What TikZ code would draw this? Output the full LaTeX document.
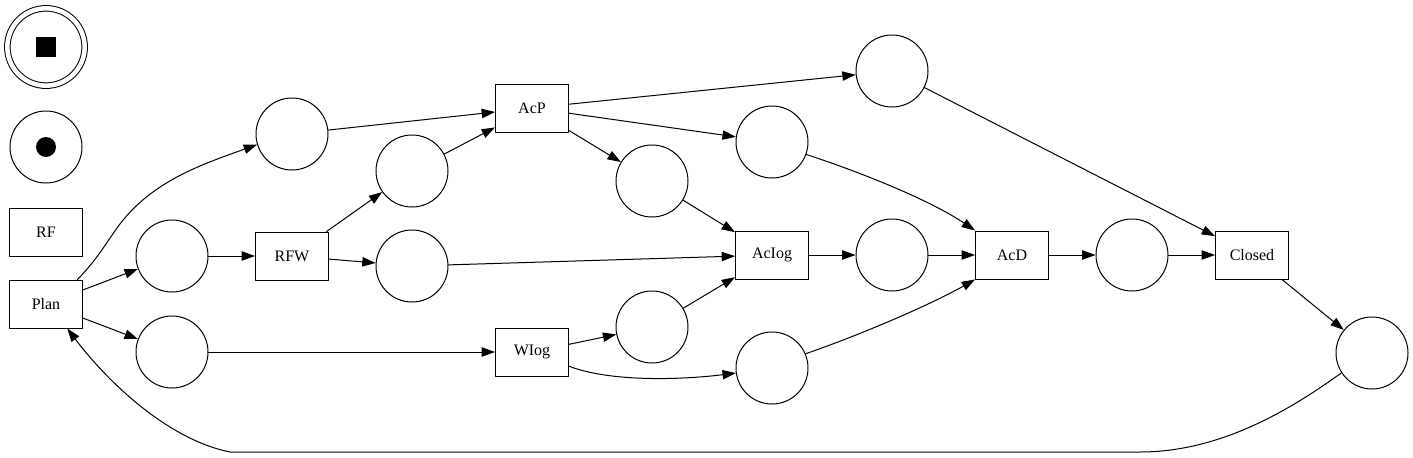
\documentclass[tikz,border=0pt]{standalone}
\usepackage{fontspec}
\setmainfont{Liberation Serif}
\usetikzlibrary{arrows.meta}

\begin{document}
\begin{tikzpicture}[x=0.75pt, y=-0.75pt, line cap=round, line join=round, line width=0.75pt,
    place/.style={draw, circle, minimum size=54pt, inner sep=0pt},
    trans/.style={draw, rectangle, minimum width=54.75pt, minimum height=36pt, inner sep=0pt, font=\fontsize{12}{14}\selectfont},
    arc/.style={-{Triangle[length=10pt, width=7pt]}}]

      \useasboundingbox (0,0) rectangle (1413,457);

      % --- LEGEND ---
      \node[draw, circle, double, double distance=3.4pt, minimum size=58pt, inner sep=0pt] (final) at (46,47) {};
      \node[fill, rectangle, minimum size=15pt, inner sep=0pt] (finalmark) at (final) {};
      \node[place] (marked) at (46,147) {};
      \node[fill, circle, minimum size=15pt, inner sep=0pt] (token) at (marked) {};
      \node[trans] (rf) at (46,232) {RF};

      % --- TRANSITIONS ---
      \foreach \n/\lbl/\x/\y in {plan/Plan/46/304, rfw/RFW/292/256, acp/AcP/532/108,
                                 wiog/WIog/532/352, aciog/AcIog/772/255, acd/AcD/1012/255,
                                 closed/Closed/1252/255}
        \node[trans] (\n) at (\x,\y) {\lbl};

      % --- PLACES ---
      \foreach \n/\x/\y in {p1/292/134, p2/172/256, p3/172/352, p4/412/171, p5/412/266,
                            p6/892/71, p7/772/142, p8/652/181, p9/652/327, p10/772/368,
                            p11/892/255, p12/1132/255, p13/1372/353}
        \node[place] (\n) at (\x,\y) {};

      % --- STRAIGHT ARCS ---
      \foreach \a/\b in {plan/p2, plan/p3, p2/rfw, rfw/p4, rfw/p5, p1/acp, p4/acp,
                         p3/wiog, acp/p6, acp/p7, acp/p8, p8/aciog, p5/aciog, wiog/p9,
                         p9/aciog, aciog/p11, p11/acd, acd/p12,
                         p12/closed, p6/closed, closed/p13}
        \draw[arc] (\a) -- (\b);

      % --- CURVED ARCS ---
      \draw[arc] (plan.38) .. controls (95,262) and (105,245) .. (117,228)
        .. controls (150,182) and (200,165) .. (p1.197);
      \draw[arc] (wiog.-21) .. controls (610,382) and (680,380) .. (p10.188);
      \draw[arc] (p7.-20) .. controls (860,172) and (930,200) .. (acd.north west);
      \draw[arc] (p10.23) .. controls (860,335) and (930,305) .. (acd.south west);
      \draw[arc] (p13.213) .. controls (1290,410) and (1220,452) .. (1140,452)
        -- (230,452) .. controls (170,440) and (110,385) .. (plan.-49);

    \end{tikzpicture}
\end{document}
